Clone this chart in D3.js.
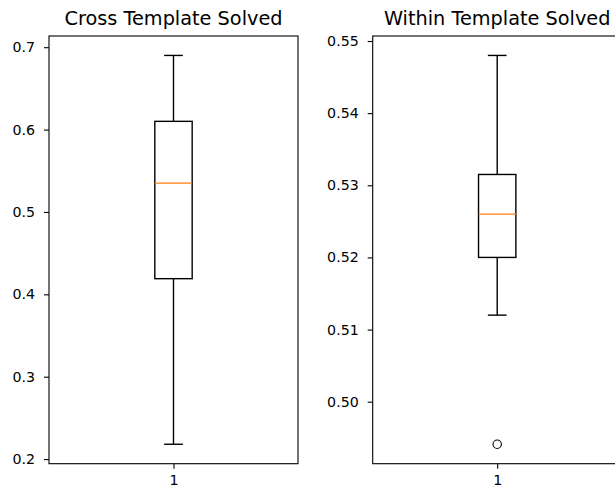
<!DOCTYPE html>
<html>
<head>
<meta charset="utf-8">
<script src="https://cdn.jsdelivr.net/npm/d3@7"></script>
<style>
  html, body { margin: 0; padding: 0; background: #fff; }
  svg { display: block; }
  text { font-family: "DejaVu Sans", sans-serif; fill: #000; }
</style>
</head>
<body>
<svg id="chart" width="615" height="491"></svg>
<script>
// ---- data ----
const panelTitles = ["Cross Template Solved", "Within Template Solved"];
const xTickLabels = ["1"];
const whiskerLow  = [0.218, 0.512];
const q1          = [0.419, 0.520];
const median      = [0.535, 0.526];
const q3          = [0.610, 0.5315];
const whiskerHigh = [0.690, 0.548];
const outliers    = [[], [0.4941]];
const yTickValues = [
  [0.2, 0.3, 0.4, 0.5, 0.6, 0.7],
  [0.50, 0.51, 0.52, 0.53, 0.54, 0.55]
];
const yTickFormats = [".1f", ".2f"];

// ---- layout ----
const svg = d3.select("#chart");
const axesLeft = [49, 372.7];
const axesWidth = 249;
const axesTop = 36;
const axesBottom = 463.7;
const boxWidth = 0.15;   // in x data units
const capWidth = 0.075;
const tickFont = "14.2px";

panelTitles.forEach((title, i) => {
  const g = svg.append("g");
  const allVals = [whiskerLow[i], whiskerHigh[i], ...outliers[i]];
  const lo = d3.min(allVals), hi = d3.max(allVals);
  const m = (hi - lo) * 0.05;
  const y = d3.scaleLinear().domain([lo - m, hi + m]).range([axesBottom, axesTop]);
  const x = d3.scaleLinear().domain([0.5, 1.5]).range([axesLeft[i], axesLeft[i] + axesWidth]);
  const pos = 1;

  // y axis
  const yAxis = d3.axisLeft(y).tickValues(yTickValues[i])
    .tickFormat(d3.format(yTickFormats[i])).tickSize(5).tickPadding(9);
  const ya = g.append("g").attr("transform", `translate(${axesLeft[i]},0)`).call(yAxis);
  ya.select(".domain").remove();
  ya.selectAll("line").attr("stroke", "#000").attr("stroke-width", 1.1);
  ya.selectAll("text").style("font-size", tickFont).style("font-family", "DejaVu Sans, sans-serif").attr("fill", "#000");

  // x axis
  const xAxis = d3.axisBottom(x).tickValues([1]).tickFormat((d, k) => xTickLabels[k]).tickSize(5).tickPadding(6.5);
  const xa = g.append("g").attr("transform", `translate(0,${axesBottom})`).call(xAxis);
  xa.select(".domain").remove();
  xa.selectAll("line").attr("stroke", "#000").attr("stroke-width", 1.1);
  xa.selectAll("text").style("font-size", tickFont).style("font-family", "DejaVu Sans, sans-serif").attr("fill", "#000");

  // frame
  g.append("rect")
    .attr("x", axesLeft[i]).attr("y", axesTop)
    .attr("width", axesWidth).attr("height", axesBottom - axesTop)
    .attr("fill", "none").attr("stroke", "#000").attr("stroke-width", 1.1);

  const lw = 1.4;
  // whiskers
  g.append("line").attr("x1", x(pos)).attr("x2", x(pos))
    .attr("y1", y(q3[i])).attr("y2", y(whiskerHigh[i]))
    .attr("stroke", "#000").attr("stroke-width", lw);
  g.append("line").attr("x1", x(pos)).attr("x2", x(pos))
    .attr("y1", y(q1[i])).attr("y2", y(whiskerLow[i]))
    .attr("stroke", "#000").attr("stroke-width", lw);
  // caps
  [whiskerHigh[i], whiskerLow[i]].forEach(v => {
    g.append("line").attr("x1", x(pos - capWidth / 2)).attr("x2", x(pos + capWidth / 2))
      .attr("y1", y(v)).attr("y2", y(v))
      .attr("stroke", "#000").attr("stroke-width", lw);
  });
  // box
  g.append("rect")
    .attr("x", x(pos - boxWidth / 2)).attr("y", y(q3[i]))
    .attr("width", x(pos + boxWidth / 2) - x(pos - boxWidth / 2))
    .attr("height", y(q1[i]) - y(q3[i]))
    .attr("fill", "none").attr("stroke", "#000").attr("stroke-width", lw);
  // median
  g.append("line").attr("x1", x(pos - boxWidth / 2)).attr("x2", x(pos + boxWidth / 2))
    .attr("y1", y(median[i])).attr("y2", y(median[i]))
    .attr("stroke", "#ff7f0e").attr("stroke-width", lw);
  // outliers
  g.selectAll("circle.out").data(outliers[i]).enter().append("circle")
    .attr("class", "out")
    .attr("cx", x(pos)).attr("cy", d => y(d)).attr("r", 4.2)
    .attr("fill", "none").attr("stroke", "#000").attr("stroke-width", 1.1);

  // title
  g.append("text")
    .attr("x", axesLeft[i] + axesWidth / 2).attr("y", 24.5)
    .attr("text-anchor", "middle")
    .style("font-size", "19.3px")
    .text(title);
});
</script>
</body>
</html>
